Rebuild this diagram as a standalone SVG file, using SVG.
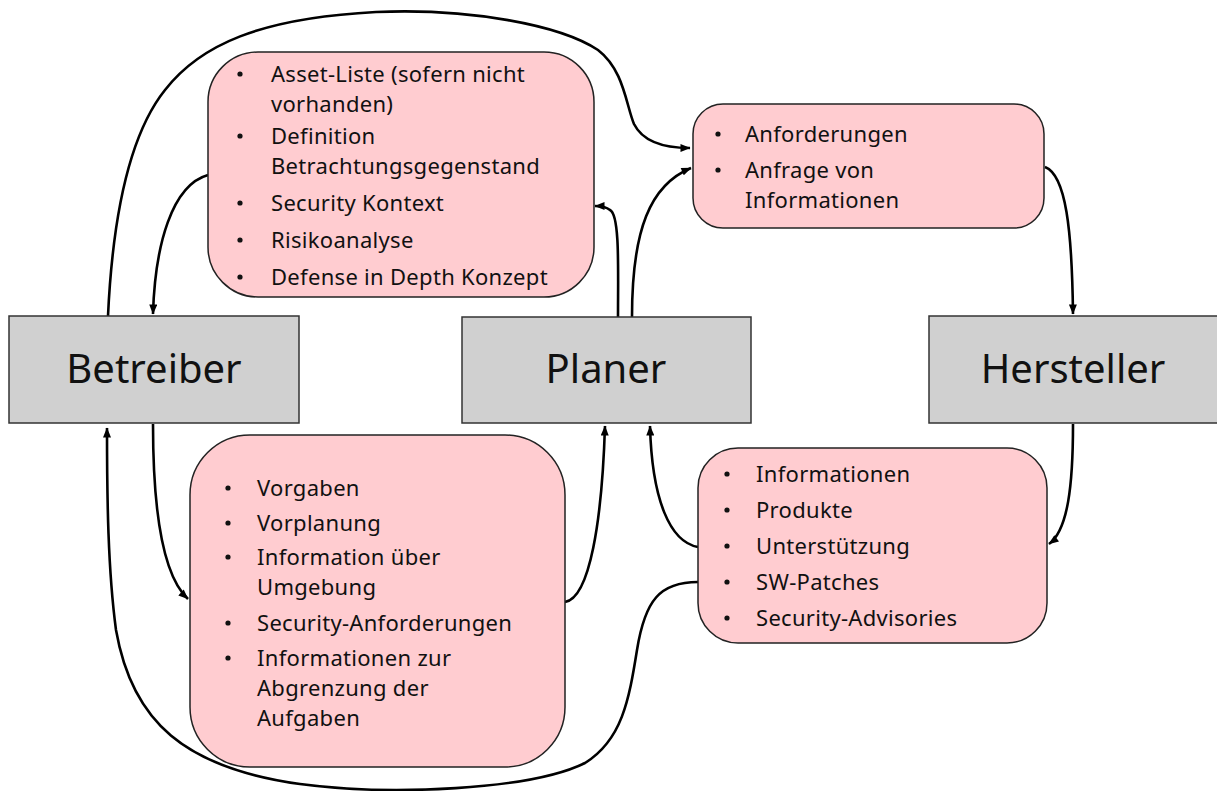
<svg xmlns="http://www.w3.org/2000/svg" width="1217" height="791" viewBox="0 0 1217 791">
  <defs>
    <marker id="arrow" viewBox="0 0 10 8" refX="9.5" refY="4" markerWidth="11" markerHeight="8" markerUnits="userSpaceOnUse" orient="auto">
      <path d="M0,0 L10,4 L0,8 z" fill="#000"/>
    </marker>
    <style>
      .actor { fill: #d0d0d0; stroke: #333; stroke-width: 1.5; }
      .info { fill: #ffccd0; stroke: #222; stroke-width: 1.5; }
      .title { font-family: "Noto Sans", "Open Sans", sans-serif; font-size: 40px; fill: #111; text-anchor: middle; }
      .item { font-family: "Noto Sans", "Open Sans", sans-serif; font-size: 22px; letter-spacing: 0.3px; fill: #111; }
      .dot { fill: #111; }
      .flow { fill: none; stroke: #000; stroke-width: 2.6; marker-end: url(#arrow); }
    </style>
  </defs>
  <rect width="1217" height="791" fill="#fff"/>

  <!-- connectors -->
  <g id="connectors">
    <!-- Betreiber to Anforderungen box, over the top -->
    <path class="flow" d="M108,316 C112,230 125,140 165,90 C200,45 260,18 376,12 C470,8 560,25 598,50 C624,70 626,105 634,124 C643,142 665,148 690,148"/>
    <!-- top-left box to Betreiber -->
    <path class="flow" d="M208,175 C172,185 155,245 153,314"/>
    <!-- Planer to top-left box -->
    <path class="flow" d="M618,317 C618,270 620,215 610,210 C605,206 600,206 595,206"/>
    <!-- Planer to Anforderungen box -->
    <path class="flow" d="M632,317 C632,230 650,185 691,168"/>
    <!-- Anforderungen box to Hersteller -->
    <path class="flow" d="M1045,167 C1066,175 1072,230 1073,314"/>
    <!-- Hersteller to bottom-right box -->
    <path class="flow" d="M1073,424 C1073,485 1068,530 1049,544"/>
    <!-- bottom-right box to Planer -->
    <path class="flow" d="M698,547 C670,542 652,500 650,426"/>
    <!-- bottom-left box to Planer -->
    <path class="flow" d="M565,602 C590,598 602,520 605,426"/>
    <!-- Betreiber to bottom-left box -->
    <path class="flow" d="M153,424 C153,505 162,575 188,599"/>
    <!-- bottom-right box to Betreiber, under the bottom -->
    <path class="flow" d="M698,582 C660,582 645,600 637,650 C629,700 622,740 585,763 C530,790 390,796 300,784 C185,768 132,722 116,630 C108,570 107,500 107,428"/>
  </g>

  <!-- actors -->
  <g id="betreiber">
    <rect class="actor" x="9" y="316" width="290" height="107"/>
    <text class="title" x="154" y="383">Betreiber</text>
  </g>
  <g id="planer">
    <rect class="actor" x="462" y="317" width="289" height="106"/>
    <text class="title" x="606" y="383">Planer</text>
  </g>
  <g id="hersteller">
    <rect class="actor" x="929" y="316" width="290" height="107"/>
    <text class="title" x="1073" y="383">Hersteller</text>
  </g>

  <!-- information boxes: bullets are small circles, wrapped items use tspans -->
  <g id="planer-input">
    <rect class="info" x="208" y="52" width="386" height="245" rx="50" ry="50"/>
    <g class="dot">
      <circle cx="240" cy="74" r="2.6"/>
      <circle cx="240" cy="136" r="2.6"/>
      <circle cx="240" cy="203" r="2.6"/>
      <circle cx="240" cy="240" r="2.6"/>
      <circle cx="240" cy="277" r="2.6"/>
    </g>
    <text class="item" x="271" y="82">Asset-Liste (sofern nicht<tspan x="271" dy="30">vorhanden)</tspan></text>
    <text class="item" x="271" y="144">Definition<tspan x="271" dy="30">Betrachtungsgegenstand</tspan></text>
    <text class="item" x="271" y="211">Security Kontext</text>
    <text class="item" x="271" y="248">Risikoanalyse</text>
    <text class="item" x="271" y="285">Defense in Depth Konzept</text>
  </g>
  <g id="anforderungen">
    <rect class="info" x="693" y="104" width="351" height="124" rx="30" ry="30"/>
    <g class="dot">
      <circle cx="718" cy="134" r="2.6"/>
      <circle cx="718" cy="170" r="2.6"/>
    </g>
    <text class="item" x="745" y="142">Anforderungen</text>
    <text class="item" x="745" y="178">Anfrage von<tspan x="745" dy="30">Informationen</tspan></text>
  </g>
  <g id="betreiber-vorgaben">
    <rect class="info" x="190" y="435" width="375" height="332" rx="60" ry="60"/>
    <g class="dot">
      <circle cx="228" cy="488" r="2.6"/>
      <circle cx="228" cy="523" r="2.6"/>
      <circle cx="228" cy="557" r="2.6"/>
      <circle cx="228" cy="623" r="2.6"/>
      <circle cx="228" cy="658" r="2.6"/>
    </g>
    <text class="item" x="257" y="496">Vorgaben</text>
    <text class="item" x="257" y="531">Vorplanung</text>
    <text class="item" x="257" y="565">Information über<tspan x="257" dy="30">Umgebung</tspan></text>
    <text class="item" x="257" y="631">Security-Anforderungen</text>
    <text class="item" x="257" y="666">Informationen zur<tspan x="257" dy="30">Abgrenzung der</tspan><tspan x="257" dy="30">Aufgaben</tspan></text>
  </g>
  <g id="hersteller-leistungen">
    <rect class="info" x="698" y="448" width="349" height="195" rx="40" ry="40"/>
    <g class="dot">
      <circle cx="727" cy="474" r="2.6"/>
      <circle cx="727" cy="510" r="2.6"/>
      <circle cx="727" cy="546" r="2.6"/>
      <circle cx="727" cy="582" r="2.6"/>
      <circle cx="727" cy="618" r="2.6"/>
    </g>
    <text class="item" x="756" y="482">Informationen</text>
    <text class="item" x="756" y="518">Produkte</text>
    <text class="item" x="756" y="554">Unterstützung</text>
    <text class="item" x="756" y="590">SW-Patches</text>
    <text class="item" x="756" y="626">Security-Advisories</text>
  </g>
</svg>
